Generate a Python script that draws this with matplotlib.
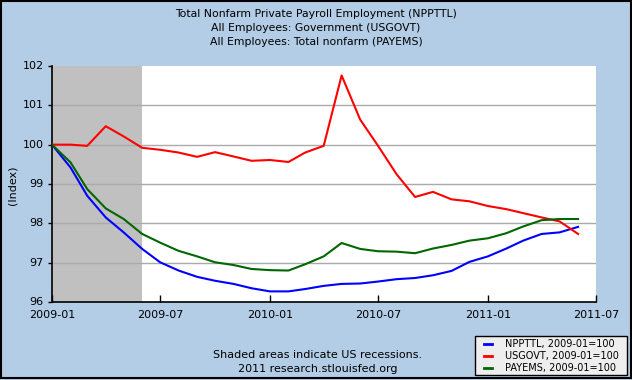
import matplotlib
matplotlib.use("Agg")
import matplotlib.pyplot as plt
import matplotlib.dates as mdates
import pandas as pd
from matplotlib.patches import Rectangle

dates = pd.date_range("2009-01-01", "2011-06-01", freq="MS")

npttl = [100.0, 99.42, 98.70, 98.15, 97.77, 97.35, 97.01, 96.80, 96.64, 96.54,
         96.46, 96.35, 96.27, 96.27, 96.33, 96.41, 96.46, 96.47, 96.52, 96.58,
         96.61, 96.68, 96.79, 97.02, 97.16, 97.36, 97.56, 97.73, 97.77, 97.91]
usgovt = [100.0, 100.0, 99.97, 100.47, 100.21, 99.92, 99.87, 99.80, 99.69, 99.81,
          99.70, 99.59, 99.61, 99.56, 99.80, 99.97, 101.76, 100.64, 99.97, 99.25,
          98.67, 98.80, 98.61, 98.56, 98.44, 98.36, 98.26, 98.15, 98.05, 97.73]
payems = [100.0, 99.55, 98.87, 98.38, 98.11, 97.73, 97.51, 97.30, 97.16, 97.01,
          96.94, 96.84, 96.81, 96.80, 96.96, 97.16, 97.50, 97.35, 97.29, 97.28,
          97.24, 97.36, 97.45, 97.56, 97.62, 97.75, 97.92, 98.08, 98.11, 98.11]

title_lines = ["Total Nonfarm Private Payroll Employment (NPPTTL)",
               "All Employees: Government (USGOVT)",
               "All Employees: Total nonfarm (PAYEMS)"]
legend_labels = ["NPPTTL, 2009-01=100", "USGOVT, 2009-01=100", "PAYEMS, 2009-01=100"]
xtick_labels = ["2009-01", "2009-07", "2010-01", "2010-07", "2011-01", "2011-07"]
yticks = [96, 97, 98, 99, 100, 101, 102]
recession = ("2009-01-01", "2009-06-01")

bg = "#b3cde6"
W, H = 632, 380
fig = plt.figure(figsize=(W / 100, H / 100), dpi=100, facecolor=bg)
ax = fig.add_axes([52 / W, (H - 302) / H, (596 - 52) / W, (302 - 66) / H])
ax.set_facecolor("white")

ax.axvspan(pd.Timestamp(recession[0]), pd.Timestamp(recession[1]),
           color="#c0c0c0", zorder=1, lw=0)
for y in yticks[1:-1]:
    ax.axhline(y, color="#aaaaaa", lw=1, zorder=2)

ax.plot(dates, npttl, color="#0000ff", lw=1.5, zorder=5)
ax.plot(dates, usgovt, color="#ff0000", lw=1.5, zorder=5)
ax.plot(dates, payems, color="#006600", lw=1.5, zorder=5)

ax.set_xlim(pd.Timestamp("2009-01-01"), pd.Timestamp("2011-07-01"))
ax.set_ylim(96, 102)
xt = [pd.Timestamp(s + "-01") for s in xtick_labels]
ax.set_xticks(xt)
ax.set_xticklabels(xtick_labels, fontsize=8)
ax.set_yticks(yticks)
ax.set_yticklabels([str(v) for v in yticks], fontsize=8)
ax.tick_params(axis="x", direction="in", length=5, width=1, pad=6, colors="black")
ax.tick_params(axis="y", direction="out", length=3, width=1, pad=3, colors="black")
for lab in ax.get_yticklabels():
    lab.set_verticalalignment("center")
for s in ["top", "right"]:
    ax.spines[s].set_visible(False)
for s in ["left", "bottom"]:
    ax.spines[s].set_linewidth(1.2)

fig.text(12 / W, 1 - 185 / H, "(Index)", rotation=90, fontsize=8,
         ha="center", va="center")
for i, t in enumerate(title_lines):
    fig.text(316 / W, 1 - (14 + 14 * i) / H, t, fontsize=7.8, ha="center", va="center")

fig.text(318 / W, 1 - 355 / H, "Shaded areas indicate US recessions.", fontsize=8,
         ha="center", va="center")
fig.text(318 / W, 1 - 369 / H, "2011 research.stlouisfed.org", fontsize=8,
         ha="center", va="center")

# legend box
fig.patches.append(Rectangle((475 / W, 1 - 375 / H), (627 - 475) / W, (375 - 336) / H,
                             transform=fig.transFigure, facecolor="#eeeeee",
                             edgecolor="black", lw=1))
colors = ["#0000ff", "#ff0000", "#006600"]
for i, (lab, c) in enumerate(zip(legend_labels, colors)):
    yy = 1 - (344 + 12 * i) / H
    fig.add_artist(plt.Line2D([484 / W, 492 / W], [yy, yy], color=c, lw=2,
                              transform=fig.transFigure))
    fig.text(505 / W, yy, lab, fontsize=7, ha="left", va="center")

# outer border
fig.patches.append(Rectangle((0.5 / W, 2.5 / H), (W - 1.5) / W, (H - 3.5) / H,
                             transform=fig.transFigure, facecolor="none",
                             edgecolor="black", lw=1.5))

fig.savefig("out.png", dpi=100, facecolor=bg)
